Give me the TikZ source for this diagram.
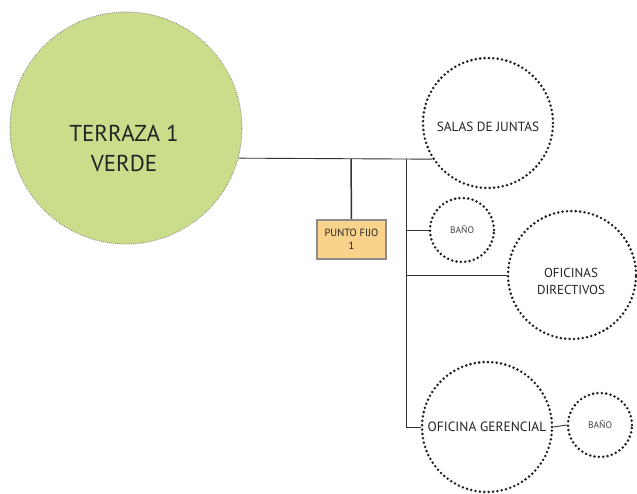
\documentclass[tikz,border=0pt]{standalone}
\usepackage{fontspec}
\setmainfont{PT Sans}
\definecolor{terrgreen}{RGB}{201,221,139}
\definecolor{pfill}{RGB}{249,210,140}
\definecolor{dotcol}{RGB}{30,30,30}
\definecolor{txtcol}{RGB}{35,35,35}
\begin{document}
\begin{tikzpicture}[x=1pt,y=-1pt,
  room/.style={circle, draw=dotcol, line width=2.8pt, line cap=round,
    dash pattern=on 0pt off 4.4pt, inner sep=0pt, align=center, text=txtcol},
  roomtxt/.style={align=center, text=txtcol, inner sep=0pt},
  conn/.style={draw=black!80, line width=0.9pt},
  pfbox/.style={draw=black!45, line width=1.5pt, fill=pfill, minimum width=69pt,
    minimum height=39pt, inner sep=0pt, align=center, text=txtcol,
    font=\fontsize{10.5}{13}\selectfont}]
\useasboundingbox (0,0) rectangle (637,494);
\node[circle, fill=terrgreen, draw=black!50, line width=1.1pt, line cap=round,
  dash pattern=on 0pt off 2pt, minimum size=232pt, inner sep=0pt] (terraza) at (126,128) {};
\node[roomtxt, font=\fontsize{23}{30}\selectfont] (terrtxt) at (124,148) {TERRAZA 1\\VERDE};
\node[room, minimum size=130pt] (salas) at (488,123) {};
\node[roomtxt, font=\fontsize{13.3}{16}\selectfont] (salastxt) at (488,127) {SALAS DE JUNTAS};
\node[room, minimum size=64pt, font=\fontsize{9.5}{11}\selectfont, text=black!75] (bano1) at (462,230) {BAÑO};
\node[room, minimum size=128pt] (ofdir) at (572,275) {};
\node[roomtxt, font=\fontsize{13}{17}\selectfont] (ofdirtxt) at (571,281) {OFICINAS\\DIRECTIVOS};
\node[room, minimum size=130pt, font=\fontsize{13.5}{15}\selectfont] (ofger) at (487,427) {OFICINA GERENCIAL};
\node[room, minimum size=64pt, font=\fontsize{9.5}{11}\selectfont, text=black!75] (bano2) at (600,425) {BAÑO};
\node[pfbox] (pf) at (351.5,239.5) {PUNTO FIJO\\1};
\coordinate (j1) at (406,159);
\coordinate (j2) at (406,427);
\coordinate (jp) at (351,159);
\draw[conn] (terraza.-15.5) -- (salas.213.6);
\draw[conn] (j1) -- (j2) -- (ofger.west);
\draw[conn, line width=1.5pt] (jp) -- (pf.north);
\draw[conn] (bano1.west -| j1) -- (bano1.west);
\draw[conn] (ofdir.west -| j1) -- (ofdir.west);
\draw[conn] (ofger.east) -- (bano2.west);
\end{tikzpicture}
\end{document}
